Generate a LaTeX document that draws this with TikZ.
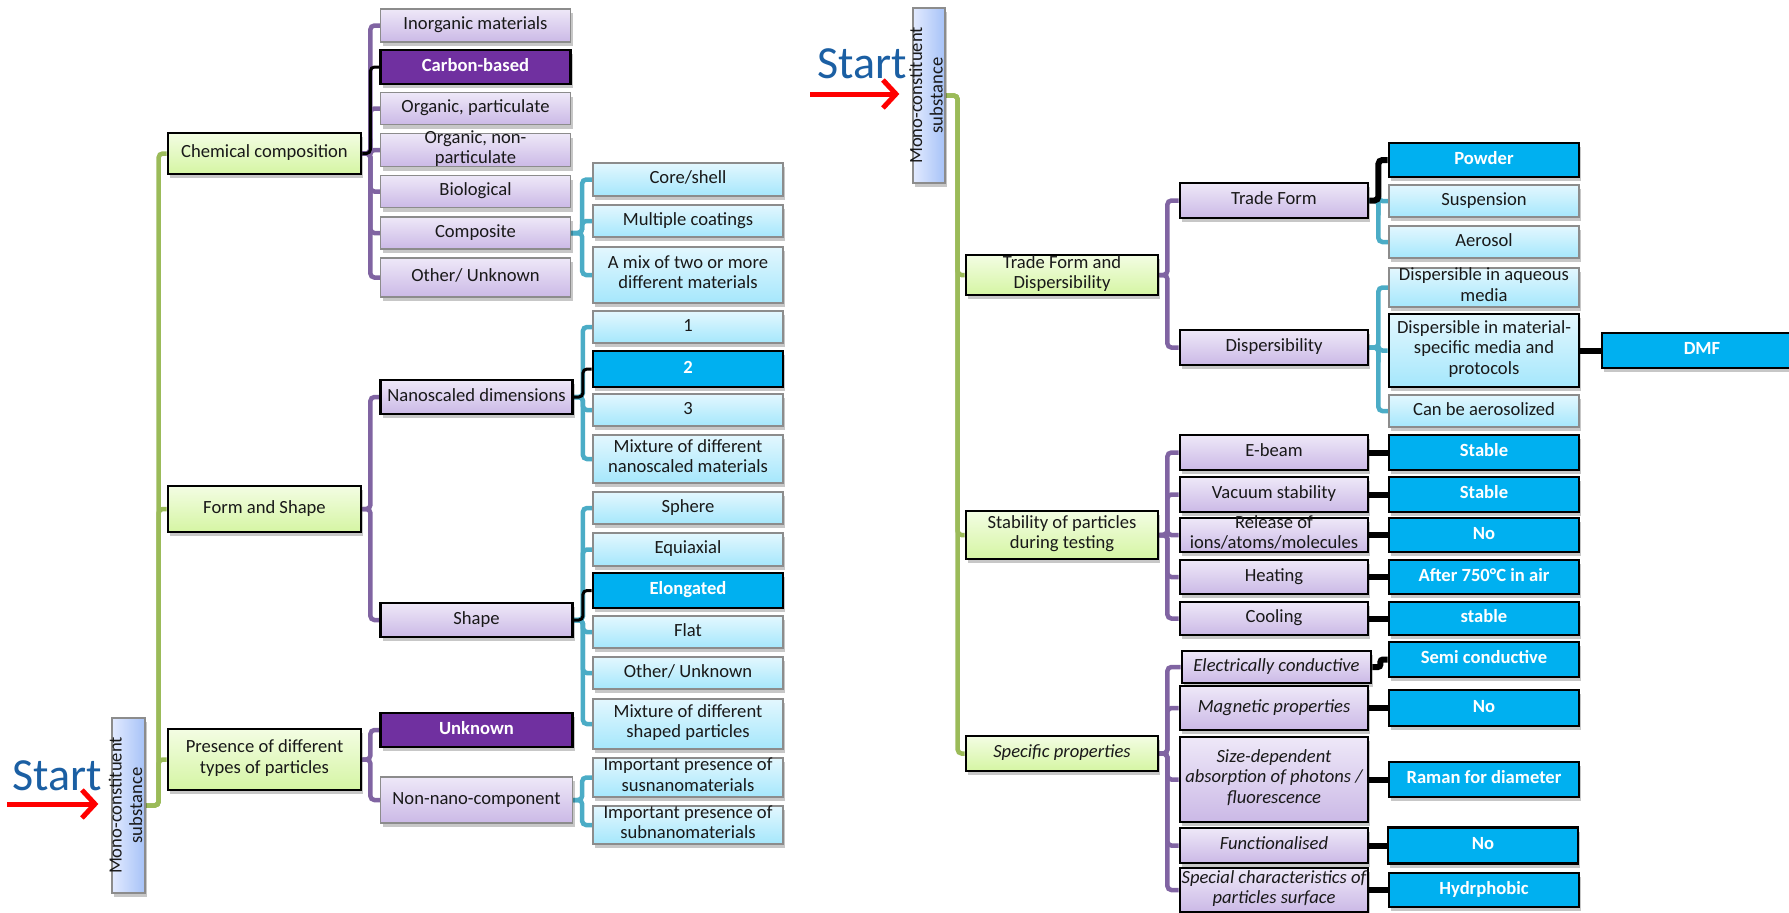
\documentclass[tikz,border=0pt]{standalone}
\usepackage{fontspec}
\setmainfont{Carlito}
\usetikzlibrary{shadows,arrows.meta}
\pgfdeclarelayer{bg}
\pgfsetlayers{bg,main}
\definecolor{cgreen}{HTML}{9BBB59}
\definecolor{cpurple}{HTML}{8064A2}
\definecolor{cblue}{HTML}{4BACC6}
\definecolor{grnT}{HTML}{F3FDE3}
\definecolor{grnB}{HTML}{D5F5A3}
\definecolor{lilT}{HTML}{EEE8F8}
\definecolor{lilB}{HTML}{CBB9E6}
\definecolor{lbT}{HTML}{E3F7FE}
\definecolor{lbB}{HTML}{A5E7FC}
\definecolor{monoL}{HTML}{E2EAFF}
\definecolor{monoR}{HTML}{A6C2F7}
\definecolor{dpurple}{HTML}{7030A0}
\definecolor{dblue}{HTML}{00B0F0}
\definecolor{bgray}{HTML}{8C8C8C}
\definecolor{startblue}{HTML}{1B5FA3}
\newcommand\myfs{\fontsize{18.6}{20.5}\selectfont}
\newcommand\B[8]{\node[#1, minimum width=#6pt, minimum height=#7pt] (#3) at (#4,#5) {};
  \node[#2] at (#3.center) {#8};}
\tikzset{
  nbox/.style={rectangle, inner sep=0pt, drop shadow={opacity=0.22, shadow xshift=2pt, shadow yshift=-4pt, fill=black}},
  bthin/.style={draw=bgray, line width=1.3pt},
  bthick/.style={draw=black, line width=2.8pt},
  grn/.style={nbox, bthick, top color=grnT, bottom color=grnB},
  lil/.style={nbox, bthin, top color=lilT, bottom color=lilB},
  lilk/.style={nbox, bthick, top color=lilT, bottom color=lilB},
  lbl/.style={nbox, bthin, top color=lbT, bottom color=lbB},
  lblk/.style={nbox, bthick, top color=lbT, bottom color=lbB},
  dpur/.style={nbox, bthick, fill=dpurple},
  dblu/.style={nbox, bthick, fill=dblue},
  monobox/.style={nbox, bthin, left color=monoL, right color=monoR},
  tx/.style={align=center, inner sep=0pt, font=\myfs, text=black!90, execute at begin node=\strut, execute at end node=\strut},
  txw/.style={tx, text=white, font=\myfs\bfseries},
  txi/.style={tx, font=\myfs\itshape},
  con/.style={line width=4.5pt, rounded corners=4pt},
  cg/.style={con, draw=cgreen},
  cp/.style={con, draw=cpurple},
  cb/.style={con, draw=cblue},
  ckt/.style={line width=3pt, draw=black, rounded corners=4pt},
  ck/.style={line width=6pt, draw=black, rounded corners=4pt},
  redarr/.style={draw=red, line width=5pt, -{Straight Barb[length=13pt,width=28pt]}, shorten >=13pt},
  starttxt/.style={font=\fontsize{46}{50}\selectfont, text=startblue, anchor=base west, inner sep=0pt}
}
\begin{document}
\begin{tikzpicture}[x=1pt,y=-1pt]
\useasboundingbox (0,0) rectangle (1789,913);

% ---------------- left tree ----------------
\node[monobox, minimum width=33pt, minimum height=175pt] (mono1) at (128.5,805.5) {};
\node[tx, rotate=90] at (mono1.center) {Mono-constituent\\substance};
\node[starttxt] (start1) at (12,790) {Start};
\coordinate (a1) at (7,804);

\B{grn}{tx}{chem}{264.5}{153.5}{193}{41}{Chemical composition}
\B{grn}{tx}{form}{264.5}{509}{193}{46}{Form and Shape}
\B{grn}{tx}{pres}{264.5}{759.5}{193}{61}{Presence of different\\types of particles}

\B{lil}{tx}{inorg}{475.5}{25.5}{190}{33}{Inorganic materials}
\B{dpur}{txw}{carbon}{475.5}{67}{190}{34}{Carbon-based}
\B{lil}{tx}{orgp}{475.5}{108.5}{190}{32}{Organic, particulate}
\B{lil}{tx}{orgnp}{475.5}{150}{190}{33}{Organic, non-\\particulate}
\B{lil}{tx}{bio}{475.5}{191.5}{190}{32}{Biological}
\B{lil}{tx}{compo}{475.5}{233}{190}{32}{Composite}
\B{lil}{tx}{oth1}{475.5}{277.5}{190}{39}{Other/ Unknown}
\B{lilk}{tx}{nano}{476.5}{397}{192}{34}{Nanoscaled dimensions}
\B{lilk}{tx}{shape}{476.5}{620}{192}{34}{Shape}
\B{dpur}{txw}{unk}{476.5}{730}{192}{34}{Unknown}
\B{lil}{tx}{nonnano}{476.5}{800}{192}{46}{Non-nano-component}

\B{lbl}{tx}{core}{688}{179.5}{190}{33}{Core/shell}
\B{lbl}{tx}{multi}{688}{221}{190}{32}{Multiple coatings}
\B{lbl}{tx}{mix}{688}{275}{190}{56}{A mix of two or more\\different materials}
\B{lbl}{tx}{d1}{688}{327}{190}{32}{1}
\B{dblu}{txw}{d2}{688}{369}{190}{36}{2}
\B{lbl}{tx}{d3}{688}{410}{190}{32}{3}
\B{lbl}{tx}{mixnano}{688}{459}{190}{48}{Mixture of different\\nanoscaled materials}
\B{lbl}{tx}{sphere}{688}{508}{190}{32}{Sphere}
\B{lbl}{tx}{equi}{688}{549.5}{190}{33}{Equiaxial}
\B{dblu}{txw}{elong}{688}{590.5}{190}{35}{Elongated}
\B{lbl}{tx}{flat}{688}{632}{190}{32}{Flat}
\B{lbl}{tx}{oth2}{688}{673}{190}{32}{Other/ Unknown}
\B{lbl}{tx}{mixshape}{688}{724}{190}{50}{Mixture of different\\shaped particles}
\B{lbl}{tx}{sus}{688}{777.5}{190}{39}{Important presence of\\susnanomaterials}
\B{lbl}{tx}{sub}{688}{825}{190}{38}{Important presence of\\subnanomaterials}

% ---------------- right tree ----------------
\node[monobox, minimum width=32pt, minimum height=175pt] (mono2) at (929,95.5) {};
\node[tx, rotate=90] at (mono2.center) {Mono-constituent\\substance};
\node[starttxt] (start2) at (817,78) {Start};
\coordinate (a2) at (810,94);

\B{grn}{tx}{tfd}{1062}{275}{192}{40}{Trade Form and\\Dispersibility}
\B{grn}{tx}{stab}{1062}{535}{192}{48}{Stability of particles\\during testing}
\B{grn}{txi}{spec}{1062}{753.5}{192}{35}{Specific properties}

\B{lilk}{tx}{tf}{1274}{200.5}{188}{35}{Trade Form}
\B{lilk}{tx}{disp}{1274}{347.5}{188}{35}{Dispersibility}
\B{lilk}{tx}{ebeam}{1274}{452.5}{188}{35}{E-beam}
\B{lilk}{tx}{vac}{1274}{494.5}{188}{35}{Vacuum stability}
\B{lilk}{tx}{rel}{1274}{535}{188}{34}{Release of\\ions/atoms/molecules}
\B{lilk}{tx}{heat}{1274}{577}{188}{34}{Heating}
\B{lilk}{tx}{cool}{1274}{618.5}{188}{33}{Cooling}
\B{lilk}{txi}{elec}{1276.5}{667}{189}{32}{Electrically conductive}
\B{lilk}{txi}{magn}{1274}{708}{188}{44}{Magnetic properties}
\B{lilk}{txi}{size}{1274}{779.5}{188}{85}{Size-dependent\\absorption of photons /\\fluorescence}
\B{lilk}{txi}{func}{1274}{845.5}{188}{35}{Functionalised}
\B{lilk}{txi}{spchar}{1274}{890}{188}{44}{Special characteristics of\\particles surface}

\B{dblu}{txw}{powder}{1484}{160}{190}{34}{Powder}
\B{lbl}{tx}{susp}{1484}{201}{190}{32}{Suspension}
\B{lbl}{tx}{aero}{1484}{242}{190}{32}{Aerosol}
\B{lbl}{tx}{dispaq}{1484}{287.5}{190}{39}{Dispersible in aqueous\\media}
\B{lblk}{tx}{dispmat}{1484}{350.5}{190}{73}{Dispersible in material-\\specific media and\\protocols}
\B{lbl}{tx}{canaero}{1484}{411}{190}{32}{Can be aerosolized}
\B{dblu}{txw}{dmf}{1702}{350.5}{200}{35}{DMF}
\B{dblu}{txw}{st1}{1484}{452.5}{190}{35}{Stable}
\B{dblu}{txw}{st2}{1484}{494.5}{190}{35}{Stable}
\B{dblu}{txw}{no1}{1484}{535}{190}{34}{No}
\B{dblu}{txw}{after}{1484}{577}{190}{34}{After 750°C in air}
\B{dblu}{txw}{st3}{1484}{618.5}{190}{33}{stable}
\B{dblu}{txw}{semi}{1484}{659.5}{190}{35}{Semi conductive}
\B{dblu}{txw}{no2}{1484}{708}{190}{36}{No}
\B{dblu}{txw}{raman}{1484}{779.5}{190}{35}{Raman for diameter}
\B{dblu}{txw}{no3}{1483}{845.5}{190}{36}{No}
\B{dblu}{txw}{hyd}{1484}{890}{190}{34}{Hydrphobic}

% ---------------- connectors ----------------
\begin{pgfonlayer}{bg}
\foreach \c in {chem,form,pres} \draw[cg] (mono1.east) -- ++(13,0) |- (\c.west);
\foreach \c in {inorg,orgp,orgnp,bio,compo,oth1} \draw[cp] (chem.east) -- ++(8,0) |- (\c.west);
\draw[ckt] (chem.east) -- ++(8,0) |- (carbon.west);
\foreach \c in {nano,shape} \draw[cp] (form.east) -- ++(8,0) |- (\c.west);
\foreach \c in {unk,nonnano} \draw[cp] (pres.east) -- ++(8,0) |- (\c.west);
\foreach \c in {core,multi,mix} \draw[cb] (compo.east) -- ++(11,0) |- (\c.west);
\foreach \c in {d1,d3,mixnano} \draw[cb] (nano.east) -- ++(9,0) |- (\c.west);
\draw[ckt] (nano.east) -- ++(9,0) |- (d2.west);
\foreach \c in {sphere,equi,flat,oth2,mixshape} \draw[cb] (shape.east) -- ++(9,0) |- (\c.west);
\draw[ckt] (shape.east) -- ++(9,0) |- (elong.west);
\foreach \c in {sus,sub} \draw[cb] (nonnano.east) -- ++(9,0) |- (\c.west);

\foreach \c in {tfd,stab,spec} \draw[cg] (mono2.east) -- ++(12,0) |- (\c.west);
\foreach \c in {tf,disp} \draw[cp] (tfd.east) -- ++(8,0) |- (\c.west);
\foreach \c in {ebeam,vac,rel,heat,cool} \draw[cp] (stab.east) -- ++(8,0) |- (\c.west);
\foreach \c in {elec,magn,size,func,spchar} \draw[cp] (spec.east) -- ++(8,0) |- (\c.west);
\foreach \c in {susp,aero} \draw[cb] (tf.east) -- ++(9,0) |- (\c.west);
\draw[ck] (tf.east) -- ++(9,0) |- (powder.west);
\foreach \c in {dispaq,dispmat,canaero} \draw[cb] (disp.east) -- ++(9,0) |- (\c.west);
\draw[ck] (dispmat) -- (dmf);
\foreach \a/\b in {ebeam/st1,vac/st2,rel/no1,heat/after,cool/st3,magn/no2,size/raman,func/no3,spchar/hyd}
  \draw[ck] (\a) -- (\b);
\draw[ck, rounded corners=2.5pt] (elec.east) -- ++(8,0) |- (semi.west);
\end{pgfonlayer}

\draw[redarr] (a1) -- (a1 -| mono1.west);
\draw[redarr] (a2) -- (a2 -| mono2.west);
\end{tikzpicture}
\end{document}
